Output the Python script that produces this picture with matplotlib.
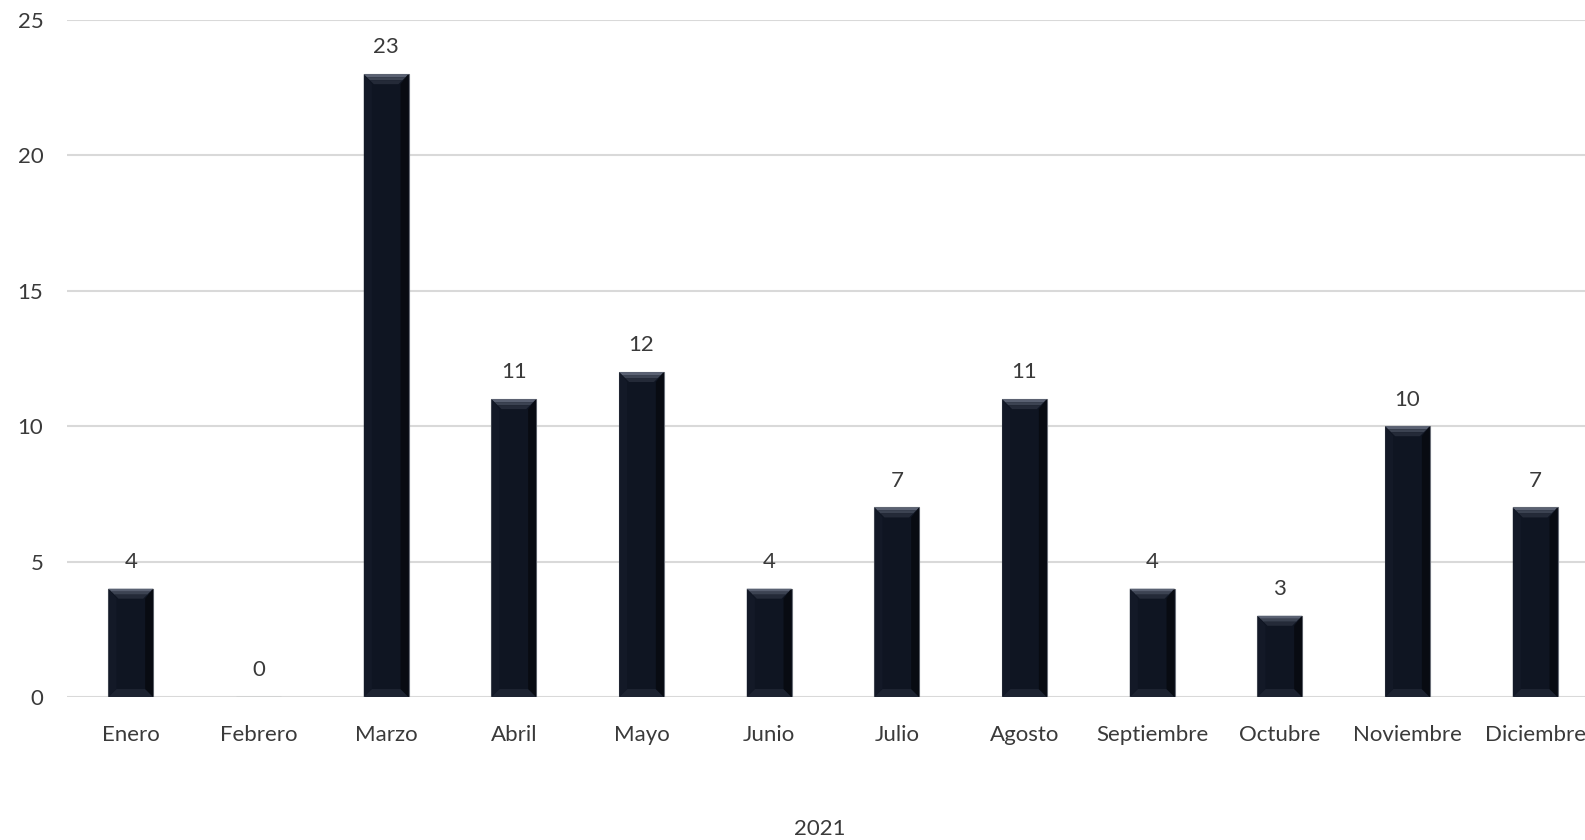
import matplotlib
matplotlib.use("Agg")
from matplotlib import pyplot as plt
from matplotlib.patches import Polygon

plt.rcParams['font.family'] = ['Lato', 'DejaVu Sans']

months = ["Enero", "Febrero", "Marzo", "Abril", "Mayo", "Junio", "Julio",
          "Agosto", "Septiembre", "Octubre", "Noviembre", "Diciembre"]
counts = [4, 0, 23, 11, 12, 4, 7, 11, 4, 3, 10, 7]
year_label = "2021"
y_ticks = [0, 5, 10, 15, 20, 25]

TEXT = "#3a3a3a"
BAR = "#0f1522"
WIDTH = 0.35
FS = 16

fig = plt.figure(figsize=(15.85, 8.4), dpi=100)
# the category band runs past the right border, as in the reference
ax = fig.add_axes([67 / 1585, 1 - 697 / 840, 1532 / 1585, 677 / 840])

x = list(range(len(months)))
bars = ax.bar(x, counts, width=WIDTH, color=BAR, edgecolor="#6b6f78",
              linewidth=0.8, zorder=3)

ax.set_xlim(-0.5, len(months) - 0.5)
ax.set_ylim(0, 25)

# bevel: pixel sizes turned into data units
px_y = 25 / 677
px_x = 1 / 127.6
for rect, val in zip(bars, counts):
    if val == 0:
        continue
    x0 = rect.get_x()
    x1 = x0 + rect.get_width()
    top = rect.get_height()
    # top bevel drawn as a few bands, light at the edge, fading inward
    steps = [(0, 3, "#5a6172"), (3, 6, "#3c4352"), (6, 10, "#242a38")]
    for a, b, col in steps:
        ax.add_patch(Polygon([(x0 + a * px_x, top - a * px_y), (x1 - a * px_x, top - a * px_y),
                              (x1 - b * px_x, top - b * px_y), (x0 + b * px_x, top - b * px_y)],
                             closed=True, facecolor=col, edgecolor="none", zorder=4))
    d = 8
    ax.add_patch(Polygon([(x0, 0), (x1, 0), (x1 - d * px_x, d * px_y),
                          (x0 + d * px_x, d * px_y)],
                         closed=True, facecolor="#1d2331", edgecolor="none", zorder=4))
    ax.add_patch(Polygon([(x1, top), (x1, 0), (x1 - d * px_x, d * px_y),
                          (x1 - d * px_x, top - 10 * px_y)],
                         closed=True, facecolor="#080b12", edgecolor="none", zorder=4))
    ax.add_patch(Polygon([(x0, top), (x0, 0), (x0 + d * px_x, d * px_y),
                          (x0 + d * px_x, top - 10 * px_y)],
                         closed=True, facecolor="#131927", edgecolor="none", zorder=4))

for xi, val in zip(x, counts):
    ax.annotate(str(val), (xi, val), xytext=(0, 12), textcoords="offset points",
                ha="center", va="bottom", fontsize=FS, color=TEXT)

ax.set_yticks(y_ticks)
ax.set_xticks(x)
ax.set_xticklabels(months)
ax.grid(axis="y", color="#d9d9d9", linewidth=1.5, zorder=0)
for s in ax.spines.values():
    s.set_visible(False)
ax.tick_params(length=0, labelsize=FS, labelcolor=TEXT)
ax.tick_params(axis="x", pad=20)
ax.tick_params(axis="y", pad=17)

ax.set_xlabel(year_label, fontsize=FS, color=TEXT)
ax.xaxis.set_label_coords((820 - 67) / 1532, -(819 - 697) / 677)

fig.savefig("out.png", dpi=100)
